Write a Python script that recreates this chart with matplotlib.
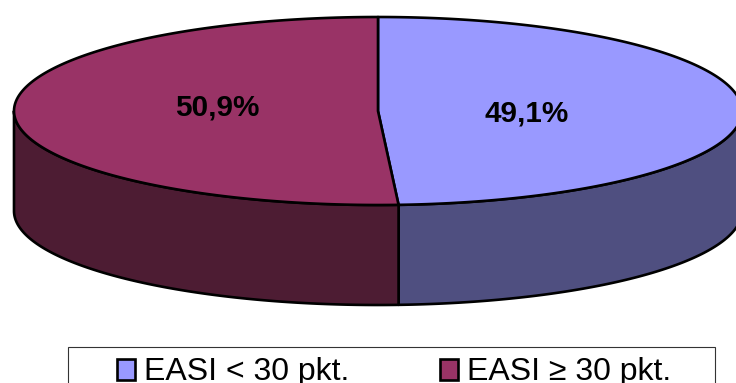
import numpy as np
import matplotlib
matplotlib.use('Agg')
import matplotlib.pyplot as plt
from matplotlib.patches import Polygon, Rectangle

plt.rcParams['font.family'] = ['Liberation Sans', 'DejaVu Sans']

labels = ['EASI < 30 pkt.', 'EASI ≥ 30 pkt.']
values = [49.1, 50.9]
value_text = ['49,1%', '50,9%']
top_colors = ['#9999FF', '#993366']
side_colors = ['#4F4F80', '#4D1C33']

# ellipse of the pie top, in pixels
cx, cy = 378, 111
rx, ry = 364, 94
depth = 100


def rim(a0, a1, n=200):
    # angles in degrees, clockwise from 12 o'clock
    t = np.radians(np.linspace(a0, a1, n))
    return np.column_stack([cx + rx * np.sin(t), cy - ry * np.cos(t)])


fig = plt.figure(figsize=(7.36, 3.83), dpi=100)
ax = fig.add_axes([0, 0, 1, 1])
ax.set_xlim(0, 736)
ax.set_ylim(383, 0)
ax.axis('off')

edges = np.concatenate([[0], np.cumsum(values)]) * 3.6

for i in range(len(values)):
    a0, a1 = edges[i], edges[i + 1]

    # side wall, only the part facing the viewer (90 to 270 degrees)
    s0, s1 = max(a0, 90), min(a1, 270)
    if s1 > s0:
        arc = rim(s0, s1)
        wall = np.vstack([arc, arc[::-1] + [0, depth]])
        ax.add_patch(Polygon(wall, closed=True, fc=side_colors[i], ec='black', lw=1.9, joinstyle='round'))

    # top face
    top = np.vstack([[cx, cy], rim(a0, a1)])
    ax.add_patch(Polygon(top, closed=True, fc=top_colors[i], ec='black', lw=1.9, joinstyle='round'))

ax.text(526.5, 113, value_text[0], ha='center', va='center', fontsize=21.3, fontweight='bold')
ax.text(217, 108, value_text[1], ha='center', va='center', fontsize=21.3, fontweight='bold')

# legend box runs past the bottom edge
ax.add_patch(Rectangle((68, 347), 647, 60, fc='white', ec='#333333', lw=0.8))
for x0, lab, col in zip([117, 440], labels, top_colors):
    ax.add_patch(Rectangle((x0, 359), 18, 21, fc=col, ec='black', lw=1.9))
    ax.text(x0 + 27, 372, lab, ha='left', va='center', fontsize=23)

fig.savefig('out.png', dpi=100)
